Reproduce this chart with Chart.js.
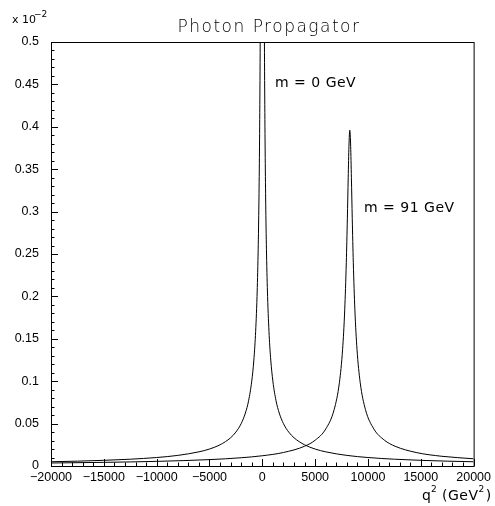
<!DOCTYPE html>
<html>
<head>
<meta charset="utf-8">
<script src="https://cdn.jsdelivr.net/npm/chart.js@4.4.0/dist/chart.umd.min.js"></script>
<style>
html, body { margin: 0; padding: 0; background: #fff; }
</style>
</head>
<body>
<canvas id="canvas" width="495" height="506"></canvas>
<script>
// q^2 in GeV^2, propagator in units of 1e-2
var q2Photon = [-20000, -17500, -15000, -12500, -10000, -8000, -6000, -5000, -4000, -3000, -2500, -2000,
    -1600, -1300, -1000, -800, -650, -500, -400, -330, -280, -240, -200, -160, -120, -80,
    80, 120, 160, 200, 240, 280, 330, 400, 500, 650, 800, 1000, 1300, 1600,
    2000, 2500, 3000, 4000, 5000, 6000, 8000, 10000, 12500, 15000, 17500, 20000];
var propPhoton = [0.0050, 0.0057, 0.0067, 0.0080, 0.0100, 0.0125, 0.0167, 0.0200, 0.0250, 0.0333, 0.0400, 0.0500,
    0.0625, 0.0769, 0.100, 0.125, 0.154, 0.200, 0.250, 0.303, 0.357, 0.417, 0.500, 0.625, 0.833, 1.25,
    1.25, 0.833, 0.625, 0.500, 0.417, 0.357, 0.303, 0.250, 0.200, 0.154, 0.125, 0.100, 0.0769, 0.0625,
    0.0500, 0.0400, 0.0333, 0.0250, 0.0200, 0.0167, 0.0125, 0.0100, 0.0080, 0.0067, 0.0057, 0.0050];

var q2Z = [-20000, -15000, -10000, -5000, -2000, 0, 2000, 4000, 5000, 6000, 6800, 7300, 7600, 7800, 7950,
    8050, 8130, 8200, 8281, 8362, 8432, 8512, 8612, 8762, 8962, 9262, 9762, 10562, 11562, 12562,
    14562, 17000, 20000];
var propZ = [0.00354, 0.00430, 0.00547, 0.00753, 0.00973, 0.01208, 0.01592, 0.02332, 0.03039, 0.04357, 0.06656, 0.0987, 0.1377, 0.1841, 0.2402,
    0.2922, 0.3399, 0.3771, 0.396, 0.3771, 0.3399, 0.2922, 0.2402, 0.1841, 0.1377, 0.0987, 0.06656, 0.04357, 0.03039, 0.02332,
    0.01591, 0.01146, 0.00853];

var curveLabels = ['m = 0 GeV', 'm = 91 GeV'];

function toPoints(xs, ys) {
    return xs.map(function (x, i) { return { x: x, y: ys[i] }; });
}

var tickFont = { family: '"Liberation Sans", Arial, sans-serif', size: 12.5 };

// ROOT style frame: box, inside ticks, title and text labels
var rootFrame = {
    id: 'rootFrame',
    afterDatasetsDraw: function (chart) {
        var ctx = chart.ctx, a = chart.chartArea;
        var xs = chart.scales.x, ys = chart.scales.y;
        ctx.save();
        ctx.strokeStyle = '#000';
        ctx.lineWidth = 1;
        ctx.strokeRect(a.left + 0.5, a.top + 0.5, a.right - a.left, a.bottom - a.top);
        ctx.beginPath();
        for (var v = -20000; v <= 20000; v += 1000) {
            var px = Math.round(xs.getPixelForValue(v)) + 0.5;
            var len = v % 5000 === 0 ? 7 : 3.5;
            ctx.moveTo(px, a.bottom);
            ctx.lineTo(px, a.bottom - len);
        }
        for (var k = 0; k <= 50; k++) {
            var py = Math.round(ys.getPixelForValue(k / 100)) + 0.5;
            var l = k % 5 === 0 ? 7 : 3.5;
            ctx.moveTo(a.left, py);
            ctx.lineTo(a.left + l, py);
        }
        ctx.stroke();

        ctx.fillStyle = '#000';
        ctx.textBaseline = 'alphabetic';
        // title
        ctx.font = '300 17px "DejaVu Sans"';
        ctx.letterSpacing = '1.5px';
        ctx.textAlign = 'center';
        ctx.fillText('Photon Propagator', 269, 32);
        ctx.textAlign = 'left';
        // exponent
        ctx.letterSpacing = '0px';
        ctx.font = '11px "DejaVu Sans"';
        ctx.fillText('x 10', 12, 23);
        ctx.font = '9px "DejaVu Sans"';
        ctx.fillText('\u22122', 34, 17);
        // curve labels
        ctx.font = '14px "DejaVu Sans"';
        ctx.letterSpacing = '0.5px';
        ctx.fillText(curveLabels[0], 275, 87);
        ctx.fillText(curveLabels[1], 364, 212);
        // x axis title
        ctx.fillText('q', 422, 500);
        ctx.font = '9px "DejaVu Sans"';
        ctx.fillText('2', 431, 492);
        ctx.font = '14px "DejaVu Sans"';
        ctx.fillText('(GeV', 442, 500);
        var w = ctx.measureText('(GeV').width;
        ctx.font = '9px "DejaVu Sans"';
        ctx.fillText('2', 442 + w, 492);
        var w2 = ctx.measureText('2').width;
        ctx.font = '14px "DejaVu Sans"';
        ctx.fillText(')', 442 + w + w2 + 1, 500);
        ctx.restore();
    }
};

var ctx = document.getElementById('canvas').getContext('2d');
var chart = new Chart(ctx, {
    type: 'scatter',
    data: {
        datasets: [{
            label: curveLabels[0],
            data: toPoints(q2Photon, propPhoton),
            showLine: true,
            borderColor: '#000',
            borderWidth: 1,
            pointRadius: 0,
            cubicInterpolationMode: 'monotone',
            clip: 0
        }, {
            label: curveLabels[1],
            data: toPoints(q2Z, propZ),
            showLine: true,
            borderColor: '#000',
            borderWidth: 1,
            pointRadius: 0,
            cubicInterpolationMode: 'monotone',
            clip: 0
        }]
    },
    options: {
        responsive: false,
        animation: false,
        layout: { padding: { top: 42, right: 21, left: 0, bottom: 0 } },
        plugins: { legend: { display: false }, tooltip: { enabled: false }, title: { display: false } },
        scales: {
            x: {
                type: 'linear',
                min: -20000,
                max: 20000,
                grid: { display: false, drawTicks: false },
                border: { display: false },
                ticks: {
                    stepSize: 5000,
                    autoSkip: false,
                    maxRotation: 0,
                    padding: 4,
                    color: '#000',
                    font: tickFont,
                    callback: function (v) { return String(v).replace('-', '\u2212'); }
                },
                afterFit: function (s) { s.height = 40; }
            },
            y: {
                min: 0,
                max: 0.5,
                grid: { display: false, drawTicks: false },
                border: { display: false },
                ticks: {
                    stepSize: 0.05,
                    padding: 12,
                    color: '#000',
                    font: tickFont,
                    callback: function (v) { return String(Number(v.toFixed(2))); }
                },
                afterFit: function (s) { s.width = 51; }
            }
        }
    },
    plugins: [rootFrame]
});
</script>
</body>
</html>
